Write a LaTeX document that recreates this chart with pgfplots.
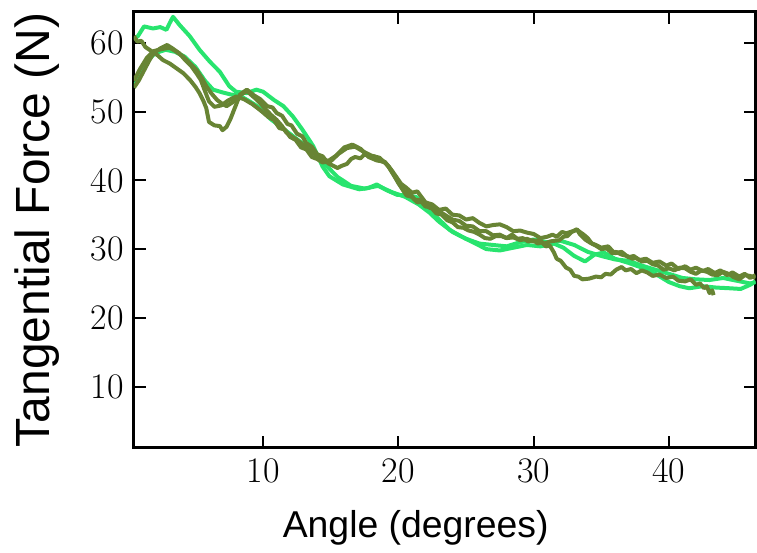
\documentclass[border=0pt]{standalone}
\usepackage{fontspec}
\usepackage{pgfplots}
\pgfplotsset{compat=1.18}
\usetikzlibrary{calc}
\newfontfamily\arialfont{Liberation Sans}
\definecolor{brightg}{RGB}{40,228,110}
\definecolor{oliveg}{RGB}{104,132,52}
\begin{document}
\begin{tikzpicture}
\begin{axis}[
  name=ax,
  scale only axis=true,
  width=311pt, height=218pt,
  xmin=0.45, xmax=46.4, ymin=1.1, ymax=64.5,
  xtick={10,20,30,40}, ytick={10,20,30,40,50,60},
  tick align=inside,
  major tick length=6pt,
  every tick/.style={black, line width=1pt},
  axis line style={black, line width=1.5pt},
  /pgf/number format/assume math mode=true,
  ticklabel style={font=\fontsize{18}{20}\selectfont},
  xticklabel style={yshift=-2pt},
  yticklabel style={xshift=-1.5pt},
  xlabel={Angle (degrees)},
  ylabel={Tangential Force (N)},
  every axis x label/.style={at={(axis description cs:0.4534,-0.2064)}, anchor=base, font=\arialfont\fontsize{18.7}{20}\selectfont},
  every axis y label/.style={at={(axis description cs:-0.135,0.5)}, rotate=90, anchor=base, font=\arialfont\fontsize{24}{26}\selectfont},
  every axis plot/.append style={line width=2pt, line join=round, no markers},
  clip=true,
]
% bright A
\addplot[color=brightg] coordinates {
(0.45,60.5)(0.75,61)(1.2,62.4)(1.86,62.1)(2.4,62.3)(2.85,61.9)(3.1,62.9)(3.34,63.8)(3.83,62.6)(4.57,61)(5.3,59)(6.05,57.3)(6.8,55.8)(7.5,53.7)(8.0,52.9)(8.8,52.7)(9.5,53.2)(10,52.9)(10.8,51.7)(11.5,50.8)(12.2,49.3)(12.9,47.4)(13.7,45)(14.4,42)(14.9,40.6)(15.9,39.4)(17.1,38.7)(17.8,38.9)(18.4,39.4)(19.1,38.6)(19.9,37.9)(20.6,37.8)(21.3,37.6)(22.2,36)(22.8,34.7)(23.8,32.8)(24.5,32)(25.5,31)(26.5,30)(27.5,29.8)(28.5,30.2)(29.5,30.6)(30.5,30.4)(31.5,30.8)(32.2,30.2)(33,29)(33.8,28.2)(34.5,29.2)(35.2,29.5)(36,28.6)(37,28)(38,27.3)(39,26.4)(40,25.2)(40.8,24.6)(41.5,24.3)(42.5,24.6)(43.5,24.4)(44.5,24.3)(45.3,24.2)(46,24.8)(46.4,25.3)
};
% bright B
\addplot[color=brightg] coordinates {
(0.45,53.5)(0.9,55.5)(1.3,57)(2,58.5)(2.8,59)(3.5,58.7)(4.2,58)(5,56.5)(5.7,54.5)(6.3,53.2)(7,52.8)(7.6,52.5)(8.3,52.3)(9,51.5)(9.8,50.5)(10.5,49)(11.5,47.5)(12.5,46)(13.5,44.5)(14.5,42.5)(15.5,40.5)(16.5,39.2)(17.5,38.8)(18.5,39.2)(19.5,38.3)(20.5,37.6)(21.5,36.5)(22.3,35.3)(23,34)(24,32.5)(25,31.5)(26,30.8)(27,30.6)(28,30.4)(29,31)(30,31.4)(31,31)(32,31.2)(33,30.6)(34,29.6)(35,29)(36,28.5)(37,28.3)(38,27.6)(39,27)(40,26.4)(41,25.8)(42,25.6)(43,25.5)(44,25.8)(45,25.4)(46,25)(46.4,25.2)
};
% olive 1
\addplot[color=oliveg] coordinates {
(0.45,61)(0.7,60.2)(1,60.3)(1.3,59.4)(1.6,59)(2.2,58.2)(2.6,57.5)(3.1,57)(3.6,56.3)(4.1,55.6)(4.6,54.6)(5,53.6)(5.3,52.7)(5.6,51.5)(5.8,50.5)(6,48.5)(6.4,48)(6.8,47.9)(7.0,47.3)(7.3,47.8)(7.6,49)(7.9,50.5)(8.3,52.5)(8.8,53.2)(9.3,52.4)(9.8,51.8)(10.3,50.8)(10.7,50.6)(11,49.8)(11.4,49.4)(11.8,48.2)(12.1,48)(12.5,46.8)(12.9,46.4)(13.2,45.4)(13.6,44.9)(14,43.8)(14.4,43.5)(14.8,42.5)(15.1,42.2)(15.5,41.8)(15.8,42.1)(16.2,42.4)(16.5,43.1)(16.8,43.4)(17.2,43.2)(17.5,43.8)(17.9,43.4)(18.2,43.5)(18.6,42.9)(19,42.6)(19.3,42)(19.6,41.2)(20.2,39.5)(20.6,38.9)(21,38.2)(21.4,38.4)(22,36.8)(22.5,36.5)(23,35.7)(23.5,35.9)(24,35)(24.5,34.9)(25,34.3)(25.5,34.5)(26,33.8)(26.5,33.3)(27,33.5)(27.5,33.6)(28,33.2)(28.5,32.6)(29,32.7)(29.5,32.4)(30,32.2)(30.5,31.6)(31,31.8)(31.4,32.1)(31.7,31.8)(32.1,32.5)(32.4,32.3)(32.9,32.6)(33.2,32.9)(33.4,32.2)(33.8,31.4)(34.2,30.9)(34.6,30.6)(35,30.2)(35.5,30.4)(36,29.4)(36.5,29.6)(37,28.8)(37.4,29)(37.8,28.4)(38.3,28.6)(38.8,28)(39.3,28.2)(39.8,27.6)(40.2,27.9)(40.7,27.1)(41.2,27.5)(41.6,27)(42,27.3)(42.5,26.8)(42.9,27.1)(43.4,26.5)(43.8,26.9)(44.3,26.2)(44.7,26.6)(45.2,26)(45.6,26.4)(46,25.8)(46.4,26.2)
};
% olive 2
\addplot[color=oliveg] coordinates {
(0.45,53.5)(0.8,54.5)(1.2,56)(1.6,57.5)(1.9,58.5)(2.4,59.2)(2.9,59.7)(3.3,59.2)(3.8,58.5)(4.2,57.6)(4.7,56.6)(5.1,55.5)(5.4,54.6)(5.7,53)(6,51.5)(6.4,50.7)(6.9,50.9)(7.4,51.6)(8,52.2)(8.6,51.8)(9.2,51.1)(9.8,50.2)(10.4,49.2)(10.8,48.8)(11.2,47.6)(11.6,47.4)(12,46.3)(12.4,45.9)(12.8,44.8)(13.2,44.5)(13.6,43.4)(14,43.1)(14.4,42.6)(15,42.8)(15.6,43.9)(16.2,44.7)(16.8,44.9)(17.4,44.2)(18,43.6)(18.6,43.3)(19.2,42.2)(19.8,40.3)(20.4,38.5)(20.8,38.2)(21.2,37.2)(21.6,37.1)(22,36.2)(22.4,36.1)(22.8,35.2)(23.2,35)(23.6,34.2)(24,33.9)(24.4,33.2)(24.8,33.1)(25.2,32.7)(25.6,32.5)(26,32.1)(26.4,31.6)(26.8,31.5)(27.2,31.9)(27.6,31.9)(28,31.6)(28.4,32.1)(28.8,31.5)(29.2,31.6)(29.6,31.1)(30,31.3)(30.3,30.8)(30.6,31)(30.9,30.4)(31.2,30.5)(31.5,29.5)(31.7,28.6)(32,28.3)(32.4,27.3)(32.7,27)(33,26.1)(33.3,26)(33.6,25.6)(34.1,25.7)(34.6,26)(35,25.9)(35.3,26.4)(35.7,26.3)(36.1,27)(36.5,27.4)(36.8,26.9)(37.2,27.1)(37.6,26.5)(38,26.9)(38.4,26.6)(38.8,26.1)(39.3,26.3)(39.8,25.8)(40.3,26)(40.7,25.4)(41.2,25.3)(41.6,25.6)(42,24.8)(42.3,25)(42.6,24.3)(42.8,24.6)(43,23.6)(43.2,24)(43.3,23.3)
};
% olive 3
\addplot[color=oliveg] coordinates {
(0.45,54.5)(0.9,56.2)(1.4,57.8)(1.9,58.8)(2.5,59.1)(3.1,59.3)(3.6,58.7)(4.1,58)(4.6,57)(5.1,56)(5.5,54.8)(5.8,53.7)(6.2,52.6)(6.6,51.7)(7,51.1)(7.3,50.8)(7.7,51.3)(8,51.8)(8.4,52.5)(8.8,53)(9.2,52.3)(9.5,51.8)(9.9,51)(10.2,50.3)(10.6,49.5)(11,48.8)(11.4,47.9)(11.7,47)(12.1,46.4)(12.5,45.9)(13.2,44.8)(14,43.5)(14.8,42.8)(15.4,43.6)(16,44.8)(16.6,45.2)(17.2,44.6)(17.8,43.4)(18.4,42.9)(19,42.7)(19.5,41.4)(20,39.6)(20.6,37.8)(21,37.6)(21.4,36.8)(21.8,36.9)(22.3,36)(22.7,35.9)(23.1,35.4)(23.5,34.9)(24,34.3)(24.5,34.1)(25,33.4)(25.5,33.3)(26,32.6)(26.5,32.6)(27,32)(27.5,32.1)(28,31.6)(28.5,31.7)(29,31.3)(29.5,31.5)(30,31.1)(30.4,31.3)(30.8,30.8)(31.2,31.1)(31.5,31.2)(31.9,31.3)(32.2,31.8)(32.5,31.9)(32.8,32.5)(33.2,32.8)(33.7,32.1)(34,31.6)(34.3,30.8)(34.6,30.5)(35,30)(35.4,30.1)(35.8,29.4)(36.1,29.6)(36.5,29.2)(36.9,29)(37.3,28.6)(37.6,28.7)(38,28.2)(38.4,28.3)(38.8,27.8)(39.2,27.6)(39.6,27)(40,27.2)(40.4,26.9)(40.8,27.3)(41.2,27.2)(41.6,26.7)(42,26.4)(42.4,26.9)(42.8,26.7)(43.2,26.3)(43.6,26.2)(44,26.7)(44.4,26.4)(44.8,25.9)(45.2,25.6)(45.6,26.2)(46,26.1)(46.4,25.8)
};
\end{axis}
\pgfresetboundingbox
\path[use as bounding box] ($(ax.south west)+(-67pt,-52.5pt)$) rectangle ($(ax.north east)+(0.75pt,6pt)$);
\end{tikzpicture}
\end{document}
